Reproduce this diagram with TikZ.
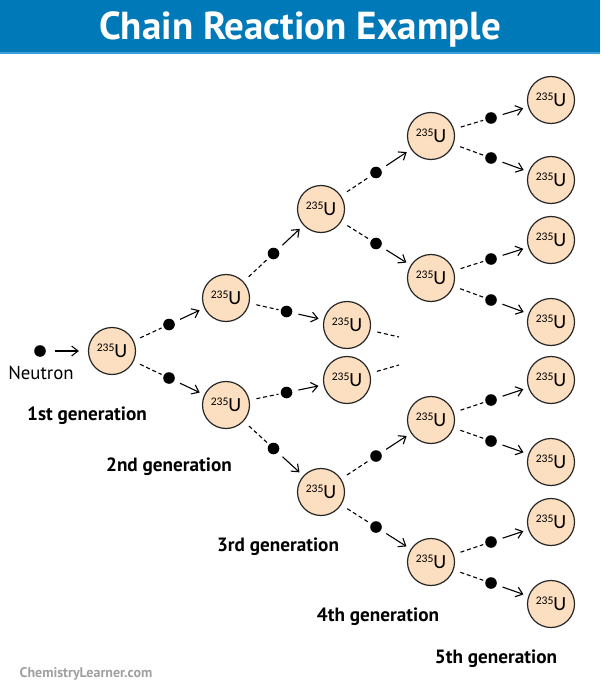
\documentclass[tikz,border=0pt]{standalone}
\usepackage{fontspec}
\setmainfont{PT Sans}
\newfontfamily\ufont{Carlito}
\usetikzlibrary{arrows.meta,calc}

\definecolor{barblue}{RGB}{0,121,184}
\definecolor{barline}{RGB}{60,160,220}
\definecolor{peach}{RGB}{252,222,192}
\definecolor{webgrey}{RGB}{160,160,160}

% isotope label inside each atom
\newcommand{\Uatom}{{\ufont\fontsize{10}{11}\selectfont\raisebox{3pt}{\fontsize{5.8}{6}\selectfont 235}U}}

\begin{document}
\begin{tikzpicture}[x=0.5pt,y=-0.5pt,
    atom/.style={circle,draw=black!85,line width=0.6pt,fill=peach,minimum size=23.5pt,inner sep=0pt},
    neutron/.style={circle,fill=black,minimum size=5.8pt,inner sep=0pt},
    emit/.style={line width=0.55pt,dash pattern=on 2pt off 1.4pt,shorten <=3.5pt,shorten >=1pt},
    hit/.style={-{Straight Barb[length=3.2pt,width=5pt]},line width=0.55pt,shorten <=3pt,shorten >=2.5pt},
    gen/.style={anchor=base,font=\fontsize{9.6}{11}\selectfont\bfseries}]
  \useasboundingbox (0,0) rectangle (600,684);

  % title bar
  \fill[barblue] (0,0) rectangle (600,52);
  \fill[barline] (0,52) rectangle (600,54);
  \node[anchor=base,text=white,font=\fontsize{19.5}{21}\selectfont\bfseries] (title) at (300,40) {Chain Reaction Example};

  % atoms
  \node[atom] (u1) at (112,351) {\Uatom};
  \node[atom] (u2a) at (226,298) {\Uatom};
  \node[atom] (u2b) at (226,405) {\Uatom};
  \node[atom] (u3a) at (321,209) {\Uatom};
  \node[atom] (u3b) at (347,325) {\Uatom};
  \node[atom] (u3c) at (347,380) {\Uatom};
  \node[atom] (u3d) at (321,492) {\Uatom};
  \node[atom] (u4a) at (431,136) {\Uatom};
  \node[atom] (u4b) at (431,278) {\Uatom};
  \node[atom] (u4c) at (431,420) {\Uatom};
  \node[atom] (u4d) at (431,562) {\Uatom};
  \node[atom] (u5a) at (551,100) {\Uatom};
  \node[atom] (u5b) at (551,180) {\Uatom};
  \node[atom] (u5c) at (551,240) {\Uatom};
  \node[atom] (u5d) at (551,322) {\Uatom};
  \node[atom] (u5e) at (551,380) {\Uatom};
  \node[atom] (u5f) at (551,462) {\Uatom};
  \node[atom] (u5g) at (551,522) {\Uatom};
  \node[atom] (u5h) at (551,604) {\Uatom};

  % incoming neutron
  \node[neutron] (n0) at (40,351) {};
  \node[anchor=base,font=\fontsize{9.4}{11}\selectfont] (neutronlbl) at (41,379) {Neutron};
  \draw[hit,shorten <=4.5pt,shorten >=4.5pt] (n0) -- (u1);

  % released neutrons
  \node[neutron] (n2a) at ($(u1)!0.5!(u2a)$) {};
  \node[neutron] (n2b) at ($(u1)!0.5!(u2b)$) {};
  \node[neutron] (n3a) at ($(u2a)!0.5!(u3a)$) {};
  \node[neutron] (n3b) at ($(u2a)!0.5!(u3b)$) {};
  \node[neutron] (n3c) at ($(u2b)!0.5!(u3c)$) {};
  \node[neutron] (n3d) at ($(u2b)!0.5!(u3d)$) {};
  \node[neutron] (n4a) at ($(u3a)!0.5!(u4a)$) {};
  \node[neutron] (n4b) at ($(u3a)!0.5!(u4b)$) {};
  \node[neutron] (n4c) at ($(u3d)!0.5!(u4c)$) {};
  \node[neutron] (n4d) at ($(u3d)!0.5!(u4d)$) {};
  \node[neutron] (n5a) at ($(u4a)!0.5!(u5a)$) {};
  \node[neutron] (n5b) at ($(u4a)!0.5!(u5b)$) {};
  \node[neutron] (n5c) at ($(u4b)!0.5!(u5c)$) {};
  \node[neutron] (n5d) at ($(u4b)!0.5!(u5d)$) {};
  \node[neutron] (n5e) at ($(u4c)!0.5!(u5e)$) {};
  \node[neutron] (n5f) at ($(u4c)!0.5!(u5f)$) {};
  \node[neutron] (n5g) at ($(u4d)!0.5!(u5g)$) {};
  \node[neutron] (n5h) at ($(u4d)!0.5!(u5h)$) {};

  \draw[emit] (u1) -- (n2a);  \draw[hit] (n2a) -- (u2a);
  \draw[emit] (u1) -- (n2b);  \draw[hit] (n2b) -- (u2b);
  \draw[emit] (u2a) -- (n3a); \draw[hit] (n3a) -- (u3a);
  \draw[emit] (u2a) -- (n3b); \draw[hit] (n3b) -- (u3b);
  \draw[emit] (u2b) -- (n3c); \draw[hit] (n3c) -- (u3c);
  \draw[emit] (u2b) -- (n3d); \draw[hit] (n3d) -- (u3d);
  \draw[emit] (u3a) -- (n4a); \draw[hit] (n4a) -- (u4a);
  \draw[emit] (u3a) -- (n4b); \draw[hit] (n4b) -- (u4b);
  \draw[emit] (u3d) -- (n4c); \draw[hit] (n4c) -- (u4c);
  \draw[emit] (u3d) -- (n4d); \draw[hit] (n4d) -- (u4d);
  \draw[emit] (u4a) -- (n5a); \draw[hit] (n5a) -- (u5a);
  \draw[emit] (u4a) -- (n5b); \draw[hit] (n5b) -- (u5b);
  \draw[emit] (u4b) -- (n5c); \draw[hit] (n5c) -- (u5c);
  \draw[emit] (u4b) -- (n5d); \draw[hit] (n5d) -- (u5d);
  \draw[emit] (u4c) -- (n5e); \draw[hit] (n5e) -- (u5e);
  \draw[emit] (u4c) -- (n5f); \draw[hit] (n5f) -- (u5f);
  \draw[emit] (u4d) -- (n5g); \draw[hit] (n5g) -- (u5g);
  \draw[emit] (u4d) -- (n5h); \draw[hit] (n5h) -- (u5h);

  % loose ends of the two middle atoms
  \coordinate (s3b) at (399,337);
  \coordinate (s3c) at (399,365);
  \draw[emit,shorten >=0pt] (u3b) -- (s3b);
  \draw[emit,shorten >=0pt] (u3c) -- (s3c);

  % generation labels
  \node[gen] (gen1) at (87,420) {1st generation};
  \node[gen] (gen2) at (169,471) {2nd generation};
  \node[gen] (gen3) at (278,551) {3rd generation};
  \node[gen] (gen4) at (378,621) {4th generation};
  \node[gen] (gen5) at (496,663) {5th generation};

  \node[anchor=base,text=webgrey,font=\fontsize{7}{8}\selectfont\bfseries] (site) at (86,677) {ChemistryLearner.com};
\end{tikzpicture}
\end{document}
